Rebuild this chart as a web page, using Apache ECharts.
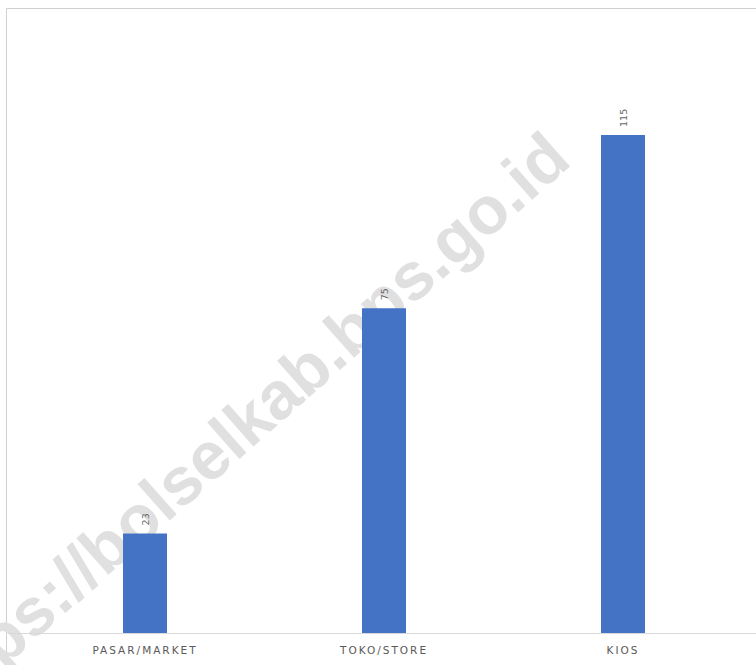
<!DOCTYPE html>
<html><head><meta charset="utf-8">
<script src="https://cdn.jsdelivr.net/npm/echarts@6/dist/echarts.min.js"></script>
<style>html,body{margin:0;padding:0;background:#fff}#chart{width:756px;height:665px}</style>
</head><body><div id="chart"></div>
<script>
const categories = ['PASAR/MARKET', 'TOKO/STORE', 'KIOS'];
const values = [23, 75, 115];
const watermarkText = 'https://bolselkab.bps.go.id';

function spaceLabels() {
  document.querySelectorAll('#chart text').forEach(function (t) {
    if (categories.indexOf(t.textContent) >= 0) t.style.letterSpacing = '2px';
  });
}

const chart = echarts.init(document.getElementById('chart'), null, {renderer: 'svg'});
chart.on('finished', spaceLabels);
chart.setOption({
  animation: false,
  backgroundColor: '#fff',
  grid: {left: 25.5, right: 13.5, top: 70, bottom: 32},
  xAxis: {
    type: 'category', data: categories,
    axisLine: {show: false}, axisTick: {show: false}, splitLine: {show: false},
    axisLabel: {color: '#595959', fontSize: 10.5, fontFamily: 'DejaVu Sans', margin: 11}
  },
  yAxis: {type: 'value', min: 0, max: 130, show: false},
  graphic: [
    {type: 'rect', silent: true, z: -10, shape: {x: 6.5, y: 8.5, width: 800, height: 700},
     style: {fill: 'none', stroke: '#d0d0d0', lineWidth: 1}},
    {type: 'text', silent: true, z: -5, x: 240, y: 427, rotation: 41.5 * Math.PI / 180,
     style: {text: watermarkText, font: 'bold 67px "Liberation Sans"', fill: '#e0e0e0', align: 'center', verticalAlign: 'middle'}},
    {type: 'line', silent: true, z: 40, shape: {x1: 8, y1: 633.5, x2: 756, y2: 633.5},
     style: {stroke: '#d9d9d9', lineWidth: 1}}
  ],
  series: [{
    type: 'bar', data: values, barWidth: 44,
    itemStyle: {color: '#4472C4'},
    label: {show: true, position: 'top', rotate: 90, align: 'left', verticalAlign: 'middle', distance: 8,
            color: '#666', fontSize: 9.5, fontFamily: 'DejaVu Sans'}
  }]
});
spaceLabels();
setTimeout(spaceLabels, 0);
</script></body></html>
